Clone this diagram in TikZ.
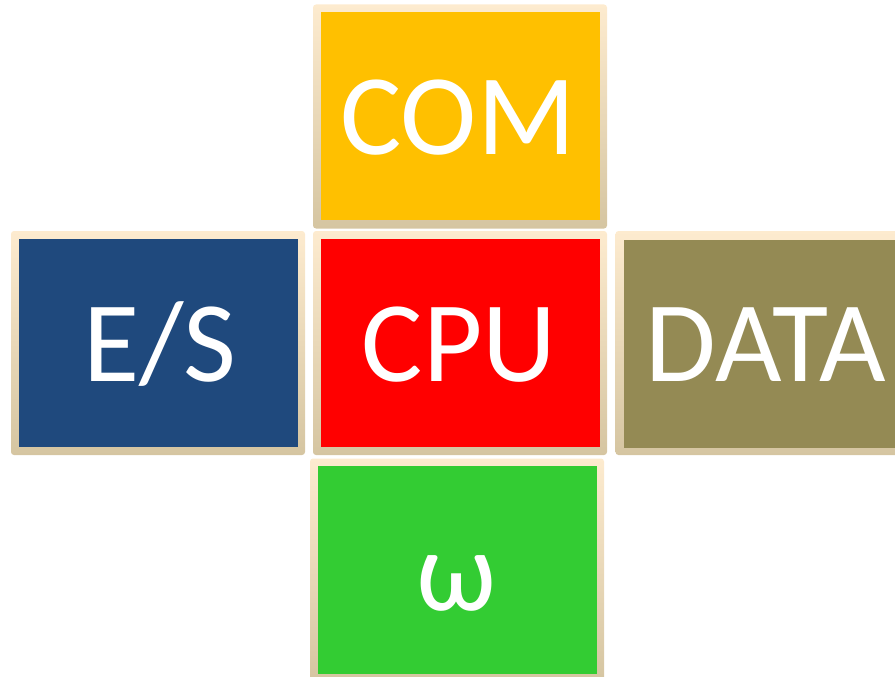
\documentclass[tikz,border=0pt]{standalone}
\usepackage{fontspec}
\setmainfont{Carlito}

\definecolor{frameTop}{HTML}{FDEBCF}
\definecolor{frameMid}{HTML}{F3EDDC}
\definecolor{frameBot}{HTML}{D5C5A1}
\definecolor{comFill}{HTML}{FFC000}
\definecolor{esFill}{HTML}{1F497D}
\definecolor{cpuFill}{HTML}{FF0000}
\definecolor{dataFill}{HTML}{948A54}
\definecolor{omegaFill}{HTML}{33CC33}

\tikzset{
  frame/.style={rectangle, rounded corners=3pt, draw=none,
    top color=frameTop, middle color=frameMid, bottom color=frameBot,
    minimum width=294pt, minimum height=224pt, inner sep=0pt},
  panel/.style={rectangle, draw=none, minimum width=279pt,
    minimum height=208pt, inner sep=0pt},
  caption/.style={anchor=base, text=white, inner sep=0pt,
    font=\fontsize{115}{115}\selectfont}
}

\begin{document}
\begin{tikzpicture}[x=1pt, y=-1pt]
  \useasboundingbox (0,0) rectangle (895,677);
  \clip (0,0) rectangle (895,677);

  % beige frames behind the coloured panels
  \node[frame] (comFrame)   at (460,116.5) {};
  \node[frame] (esFrame)    at (158,343) {};
  \node[frame] (cpuFrame)   at (460,343) {};
  \node[frame] (dataFrame)  at (762.5,343) {};
  \node[frame] (omegaFrame) at (457,570.5) {};

  % coloured panels
  \node[panel, fill=comFill]   (com)   at (460.5,116) {};
  \node[panel, fill=esFill]    (es)    at (158,343) {};
  \node[panel, fill=cpuFill]   (cpu)   at (460.5,343) {};
  \node[panel, fill=dataFill]  (data)  at (763,343.5) {};
  \node[panel, fill=omegaFill] (omega) at (457,570) {};

  % labels, placed on their baselines
  \node[caption] (comText)   at (458,154) {COM};
  \node[caption] (esText)    at (160,381.5) {E/S};
  \node[caption] (cpuText)   at (459,381.5) {CPU};
  \node[caption] (dataText)  at (766,381.5) {DATA};
  \node[caption] (omegaText) at (457,610) {ω};
\end{tikzpicture}
\end{document}
